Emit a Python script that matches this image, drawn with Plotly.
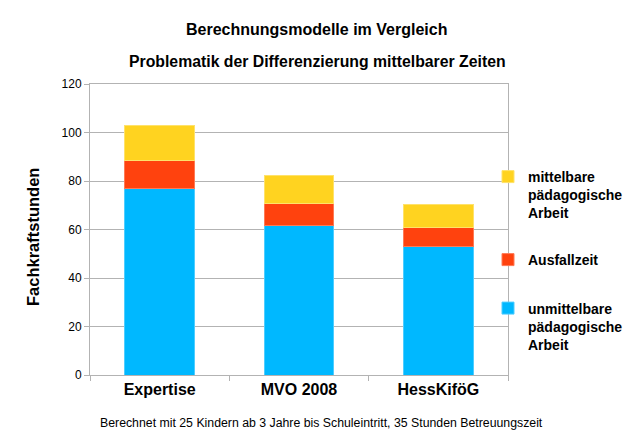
import plotly.graph_objects as go

categories = ["Expertise", "MVO 2008", "HessKiföG"]
unmittelbar = [77.0, 61.7, 52.8]
ausfall = [11.4, 9.1, 7.9]
mittelbar = [14.3, 11.3, 9.7]
y_ticks = [0, 20, 40, 60, 80, 100, 120]

BLUE = "#00B8FF"
RED = "#FF420E"
YELLOW = "#FFD320"
GRID = "#B3B3B3"
FONT = "Liberation Sans"

# plot area in reference pixel coordinates
PL, PT, PW, PH = 90, 84, 418, 291
OFF = 8  # page body margin offset
W, H = 632 - OFF, 441 - OFF
L, T = PL - OFF, PT - OFF
R = W - L - PW
B = H - T - PH


def px_x(px):
    return (px - PL) / PW


def px_y(py):
    return (PT + PH - py) / PH


fig = go.Figure()
fig.add_trace(go.Bar(x=categories, y=unmittelbar, name="unmittelbare<br>pädagogische<br>Arbeit",
                     marker=dict(color=BLUE, line=dict(color="#4fcdff", width=1)), legend="legend3"))
fig.add_trace(go.Bar(x=categories, y=ausfall, name="Ausfallzeit",
                     marker=dict(color=RED, line=dict(color="#ff7a55", width=1)), legend="legend2"))
fig.add_trace(go.Bar(x=categories, y=mittelbar, name="mittelbare<br>pädagogische<br>Arbeit",
                     marker=dict(color=YELLOW, line=dict(color="#ffe26a", width=1)), legend="legend"))

legend_common = dict(xanchor="left", yanchor="top", valign="top", bgcolor="rgba(0,0,0,0)",
                     font=dict(family=FONT, size=14, color="#000000", weight="bold"),
                     itemclick=False, itemdoubleclick=False)
lx = px_x(488)
fig.update_layout(
    legend=dict(x=lx, y=px_y(161), **legend_common),
    legend2=dict(x=lx, y=px_y(244), **legend_common),
    legend3=dict(x=lx, y=px_y(292.5), **legend_common),
)

fig.update_layout(
    width=W, height=H,
    margin=dict(l=L, r=R, t=T, b=B, pad=0, autoexpand=False),
    barmode="stack",
    bargap=0.5,
    plot_bgcolor="white",
    paper_bgcolor="white",
    font=dict(family=FONT, color="#000000"),
    showlegend=True,
    xaxis=dict(
        showline=True, linecolor=GRID, linewidth=1, mirror=True,
        ticks="outside", tickson="boundaries", ticklen=5, tickcolor=GRID,
        tickfont=dict(family=FONT, size=16, color="#000000", weight="bold"),
        showgrid=False,
    ),
    yaxis=dict(
        range=[0, 120], tickvals=y_ticks,
        showline=True, linecolor=GRID, linewidth=1, mirror=True,
        showgrid=True, gridcolor=GRID, gridwidth=1,
        ticks="outside", ticklen=5, tickcolor=GRID,
        tickfont=dict(family=FONT, size=12, color="#000000"),
        zeroline=False,
    ),
    annotations=[
        dict(text="<b>Berechnungsmodelle im Vergleich</b>", xref="paper", yref="paper",
             x=px_x(316.5), y=px_y(29), xanchor="center", yanchor="middle", showarrow=False,
             font=dict(family=FONT, size=16, color="#000000")),
        dict(text="<b>Problematik der Differenzierung mittelbarer Zeiten</b>", xref="paper", yref="paper",
             x=px_x(317), y=px_y(61.5), xanchor="center", yanchor="middle", showarrow=False,
             font=dict(family=FONT, size=15.8, color="#000000")),
        dict(text="<b>Fachkraftstunden</b>", xref="paper", yref="paper", textangle=-90,
             x=px_x(33), y=px_y(237), xanchor="center", yanchor="middle", showarrow=False,
             font=dict(family=FONT, size=16.5, color="#000000")),
        dict(text="Berechnet mit 25 Kindern ab 3 Jahre bis Schuleintritt, 35 Stunden Betreuungszeit",
             xref="paper", yref="paper", x=px_x(321), y=px_y(423), xanchor="center", yanchor="middle",
             showarrow=False, font=dict(family=FONT, size=12.3, color="#000000")),
    ],
)

fig.write_html("out.html")
